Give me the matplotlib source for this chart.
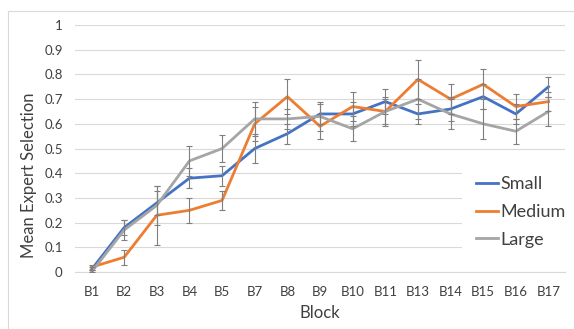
import matplotlib.pyplot as plt
from matplotlib.patches import Rectangle

# Block labels (B6 and B12 are not in the chart)
blocks = ['B1', 'B2', 'B3', 'B4', 'B5', 'B7', 'B8', 'B9', 'B10', 'B11',
          'B13', 'B14', 'B15', 'B16', 'B17']

# Mean expert selection per block
small = [0.01, 0.18, 0.28, 0.38, 0.39, 0.50, 0.56, 0.64, 0.64, 0.69,
         0.64, 0.66, 0.71, 0.64, 0.75]
medium = [0.02, 0.06, 0.23, 0.25, 0.29, 0.60, 0.71, 0.59, 0.67, 0.65,
          0.78, 0.70, 0.76, 0.67, 0.69]
large = [0.00, 0.17, 0.27, 0.45, 0.50, 0.62, 0.62, 0.63, 0.58, 0.65,
         0.70, 0.64, 0.60, 0.57, 0.65]

# Error bar half-widths
small_err = [0.01, 0.03, 0.05, 0.04, 0.04, 0.06, 0.04, 0.04, 0.05, 0.05,
             0.04, 0.05, 0.05, 0.04, 0.04]
medium_err = [0.01, 0.03, 0.12, 0.05, 0.04, 0.07, 0.07, 0.05, 0.06, 0.06,
              0.08, 0.06, 0.06, 0.05, 0.04]
large_err = [0.01, 0.04, 0.08, 0.06, 0.055, 0.07, 0.04, 0.06, 0.05, 0.05,
             0.08, 0.06, 0.06, 0.05, 0.06]

series = [
    ('Small', small, small_err, '#4472C4'),
    ('Medium', medium, medium_err, '#ED7D31'),
    ('Large', large, large_err, '#A5A5A5'),
]

plt.rcParams['font.family'] = ['Lato', 'DejaVu Sans']

fig = plt.figure(figsize=(5.74, 3.29), dpi=100)
ax = fig.add_axes([0.131, 0.173, 0.853, 0.751])

# chart area border (Excel style)
fig.patches.append(Rectangle((8 / 574, -0.1), 1.0, 1 - 11 / 329 + 0.1,
                             transform=fig.transFigure, fill=False,
                             edgecolor='#D9D9D9', lw=0.8))

x = list(range(len(blocks)))
for name, vals, err, col in series:
    ax.plot(x, vals, color=col, lw=2, label=name, zorder=3)
    ax.errorbar(x, vals, yerr=err, fmt='none', ecolor='#7F7F7F',
                elinewidth=0.8, capsize=2, capthick=0.8, zorder=4)

ax.set_xlim(-0.5, len(blocks) - 0.5)
ax.set_ylim(0, 1)
ax.set_yticks([i / 10 for i in range(11)])
ax.set_yticklabels(['0', '0.1', '0.2', '0.3', '0.4', '0.5', '0.6',
                    '0.7', '0.8', '0.9', '1'])
ax.set_xticks(x)
ax.set_xticklabels(blocks)
ax.tick_params(axis='both', length=0, labelsize=9.5, colors='#404040')
ax.tick_params(axis='x', pad=10)
ax.tick_params(axis='y', pad=9)

ax.grid(axis='y', color='#D9D9D9', lw=0.8, zorder=0)
for s in ['top', 'right', 'left']:
    ax.spines[s].set_visible(False)
ax.spines['bottom'].set_color('#D9D9D9')
ax.spines['bottom'].set_linewidth(0.8)

ax.set_xlabel('Block', fontsize=12, color='#404040')
ax.xaxis.set_label_coords(0.5, -0.135)
ax.set_ylabel('Mean Expert Selection', fontsize=12, color='#404040')
ax.yaxis.set_label_coords(-0.078, 0.39)

leg = ax.legend(loc='center left', bbox_to_anchor=(453 / 574, 1 - 212 / 329),
                bbox_transform=fig.transFigure, fontsize=13, frameon=True,
                facecolor='white', edgecolor='none', framealpha=1,
                borderpad=0.8, handlelength=1.2, handletextpad=0.15,
                labelspacing=0.65, fancybox=False)
leg.set_zorder(5)
for t in leg.get_texts():
    t.set_color('#404040')

fig.savefig('out.png', dpi=100)
